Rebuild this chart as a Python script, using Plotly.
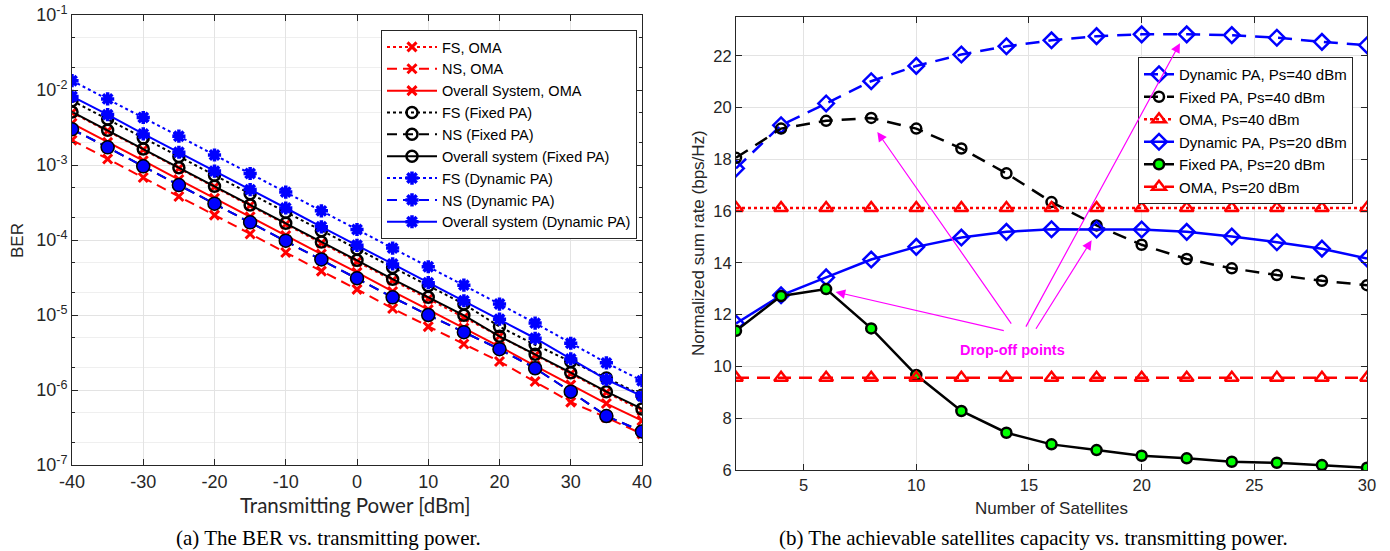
import plotly.graph_objects as go

# ---------------- Left panel data (BER vs transmitting power) ----------------
power_dbm = [-40, -35, -30, -25, -20, -15, -10, -5, 0, 5, 10, 15, 20, 25, 30, 35, 40]

ber_fs_oma = [5.0e-3, 2.85e-3, 1.6e-3, 9.0e-4, 5.1e-4, 2.88e-4, 1.62e-4, 9.1e-5, 5.15e-5, 2.9e-5,
              1.65e-5, 9.3e-6, 5.2e-6, 2.9e-6, 1.65e-6, 9.3e-7, 5.3e-7]
ber_ns_oma = [2.15e-3, 1.2e-3, 6.8e-4, 3.8e-4, 2.15e-4, 1.2e-4, 6.8e-5, 3.85e-5, 2.2e-5, 1.22e-5,
              7.0e-6, 4.1e-6, 2.4e-6, 1.3e-6, 6.9e-7, 4.3e-7, 2.6e-7]
ber_all_oma = [3.6e-3, 2.0e-3, 1.14e-3, 6.4e-4, 3.6e-4, 2.04e-4, 1.15e-4, 6.5e-5, 3.7e-5, 2.06e-5,
               1.18e-5, 6.7e-6, 3.8e-6, 2.1e-6, 1.17e-6, 6.6e-7, 3.9e-7]
ber_fs_fixed = [7.2e-3, 4.1e-3, 2.3e-3, 1.3e-3, 7.3e-4, 4.15e-4, 2.35e-4, 1.33e-4, 7.6e-5, 4.3e-5,
                2.45e-5, 1.4e-5, 7.0e-6, 4.0e-6, 2.4e-6, 1.45e-6, 8.5e-7]
ber_ns_fixed = [3.0e-3, 1.72e-3, 9.6e-4, 5.4e-4, 3.05e-4, 1.72e-4, 9.8e-5, 5.5e-5, 3.1e-5, 1.72e-5,
                1.0e-5, 5.9e-6, 3.5e-6, 1.95e-6, 9.5e-7, 4.5e-7, 2.8e-7]
ber_all_fixed = [5.1e-3, 2.9e-3, 1.63e-3, 9.2e-4, 5.2e-4, 2.93e-4, 1.67e-4, 9.4e-5, 5.35e-5, 3.0e-5,
                 1.72e-5, 9.9e-6, 5.2e-6, 3.0e-6, 1.7e-6, 9.5e-7, 5.6e-7]
ber_fs_dyn = [1.33e-2, 7.6e-3, 4.3e-3, 2.42e-3, 1.36e-3, 7.7e-4, 4.35e-4, 2.45e-4, 1.38e-4, 7.8e-5,
              4.4e-5, 2.5e-5, 1.4e-5, 7.8e-6, 4.2e-6, 2.3e-6, 1.33e-6]
ber_ns_dyn = [3.0e-3, 1.72e-3, 9.6e-4, 5.4e-4, 3.05e-4, 1.72e-4, 9.8e-5, 5.5e-5, 3.1e-5, 1.72e-5,
              1.0e-5, 5.9e-6, 3.5e-6, 1.95e-6, 9.5e-7, 4.5e-7, 2.8e-7]
ber_all_dyn = [8.2e-3, 4.7e-3, 2.6e-3, 1.48e-3, 8.3e-4, 4.7e-4, 2.67e-4, 1.5e-4, 8.5e-5, 4.8e-5,
               2.7e-5, 1.55e-5, 8.8e-6, 4.9e-6, 2.6e-6, 1.38e-6, 8.3e-7]

left_x_ticks = [-40, -30, -20, -10, 0, 10, 20, 30, 40]
left_x_labels = ["-40", "-30", "-20", "-10", "0", "10", "20", "30", "40"]
left_y_exps = [-7, -6, -5, -4, -3, -2, -1]

# ---------------- Right panel data (sum rate vs number of satellites) ----------------
n_sat = [2, 4, 6, 8, 10, 12, 14, 16, 18, 20, 22, 24, 26, 28, 30]
dyn_40 = [17.65, 19.32, 20.16, 21.02, 21.61, 22.05, 22.37, 22.6, 22.76, 22.83, 22.83, 22.8, 22.7, 22.54, 22.41]
fixed_40 = [18.06, 19.19, 19.49, 19.6, 19.19, 18.42, 17.46, 16.35, 15.45, 14.7, 14.15, 13.79, 13.53, 13.31, 13.14]
oma_40 = [16.12] * 15
dyn_20 = [11.66, 12.75, 13.44, 14.13, 14.62, 14.98, 15.2, 15.3, 15.29, 15.29, 15.2, 15.02, 14.8, 14.55, 14.17]
fixed_20 = [11.38, 12.72, 12.99, 11.47, 9.67, 8.28, 7.44, 6.99, 6.77, 6.55, 6.45, 6.32, 6.28, 6.19, 6.09]
oma_20 = [9.56] * 15

right_x_ticks = [5, 10, 15, 20, 25, 30]
right_y_ticks = [6, 8, 10, 12, 14, 16, 18, 20, 22]

RED = "#FF0000"
BLUE = "#0000FF"
BLACK = "#000000"
GREEN = "#00FF00"
MAGENTA = "#FF00FF"
AX = "#262626"
FONT = "Arial, Liberation Sans, sans-serif"

fig = go.Figure()

def left_trace(name, y, color, dash, symbol, msize, mlw, rank, fill=None, mline=None, show=True):
    marker = dict(symbol=symbol, size=msize, color=fill if fill else color,
                  line=dict(width=mlw, color=mline if mline else color))
    fig.add_trace(go.Scatter(
        x=power_dbm, y=y, name=name, mode="lines+markers",
        line=dict(color=color, width=2, dash=dash), marker=marker,
        xaxis="x", yaxis="y", legend="legend", legendrank=rank, showlegend=show))

left_trace("FS, OMA", ber_fs_oma, RED, "dot", "x-thin-open", 9, 3, 1)
left_trace("NS, OMA", ber_ns_oma, RED, "10px,6px", "x-thin-open", 9, 3, 2)
left_trace("Overall System, OMA", ber_all_oma, RED, "solid", "x-thin-open", 9, 3, 3)
left_trace("FS (Fixed PA)", ber_fs_fixed, BLACK, "dot", "circle-open", 11, 2.5, 4)
left_trace("NS (Fixed PA)", ber_ns_fixed, BLACK, "10px,6px", "circle-open", 11, 2.5, 5)
left_trace("Overall system (Fixed PA)", ber_all_fixed, BLACK, "solid", "circle-open", 11, 2.5, 6)
left_trace("FS (Dynamic PA)", ber_fs_dyn, BLUE, "dot", "asterisk-open", 11, 3.5, 7)
left_trace("NS (Dynamic PA)", ber_ns_dyn, BLUE, "10px,6px", "circle", 13, 1.5, 8,
           fill=BLUE, mline=BLACK, show=False)
# legend entry for NS (Dynamic PA) as shown in the reference legend
fig.add_trace(go.Scatter(
    x=[None], y=[None], name="NS (Dynamic PA)", mode="lines+markers",
    line=dict(color=BLUE, width=2, dash="10px,6px"),
    marker=dict(symbol="asterisk-open", size=11, color=BLUE, line=dict(width=3.5, color=BLUE)),
    xaxis="x", yaxis="y", legend="legend", legendrank=8))
left_trace("Overall system (Dynamic PA)", ber_all_dyn, BLUE, "solid", "asterisk-open", 11, 3.5, 9)

def right_trace(name, y, color, dash, symbol, msize, rank, fill=None):
    marker = dict(symbol=symbol, size=msize, color=fill if fill else color,
                  line=dict(width=2.5, color=color if not fill else BLACK))
    fig.add_trace(go.Scatter(
        x=n_sat, y=y, name=name, mode="lines+markers",
        line=dict(color=color, width=2.5, dash=dash), marker=marker,
        xaxis="x2", yaxis="y2", legend="legend2", legendrank=rank))

right_trace("Dynamic PA, Ps=40 dBm", dyn_40, BLUE, "14px,9px", "diamond-open", 12, 1)
right_trace("Fixed PA, Ps=40 dBm", fixed_40, BLACK, "14px,9px", "circle-open", 10, 2)
right_trace("OMA, Ps=40 dBm", oma_40, RED, "dot", "triangle-up-open", 12, 3)
right_trace("Dynamic PA, Ps=20 dBm", dyn_20, BLUE, "solid", "diamond-open", 12, 4)
right_trace("Fixed PA, Ps=20 dBm", fixed_20, BLACK, "solid", "circle", 10, 5, fill=GREEN)
right_trace("OMA, Ps=20 dBm", oma_20, RED, "13px,8px", "triangle-up-open", 12, 6)

W, H = 1390, 551
def px(xp):
    return xp / W
def py(yp):
    return 1 - yp / H

common_axis = dict(showline=True, linecolor=AX, linewidth=1, mirror="allticks", ticks="inside",
                   ticklen=6, tickcolor=AX, showgrid=True, gridcolor="#e3e3e3", gridwidth=1,
                   zeroline=False, automargin=False)

fig.update_layout(
    width=W, height=H, margin=dict(l=0, r=0, t=0, b=0),
    paper_bgcolor="white", plot_bgcolor="white",
    font=dict(family=FONT, color=AX),
    xaxis=dict(domain=[px(72), px(642)], range=[-40, 40], tickvals=left_x_ticks,
               ticktext=left_x_labels,
               tickfont=dict(size=18, family=FONT, color=AX), anchor="y", **common_axis),
    yaxis=dict(domain=[py(465), py(15)], type="log", range=[-7, -1],
               tickvals=[10.0 ** e for e in left_y_exps],
               ticktext=["10<sup>%d</sup>" % e for e in left_y_exps],
               tickfont=dict(size=18, family=FONT, color=AX), anchor="x",
               minor=dict(ticks="inside", ticklen=3, tickcolor=AX, showgrid=True,
                          gridcolor="#efefef", gridwidth=1),
               **common_axis),
    xaxis2=dict(domain=[px(736), px(1367)], range=[2, 30], tickvals=right_x_ticks,
                tickfont=dict(size=16.5, family=FONT, color=AX), anchor="y2", **common_axis),
    yaxis2=dict(domain=[py(470), py(17)], range=[6, 23.5], tickvals=right_y_ticks,
                tickfont=dict(size=16.5, family=FONT, color=AX), anchor="x2", **common_axis),
    legend=dict(x=px(637), y=py(30), xanchor="right", yanchor="top",
                bgcolor="white", bordercolor=AX, borderwidth=1, itemwidth=50,
                font=dict(size=14.5, family=FONT, color="#000000"), tracegroupgap=0),
    legend2=dict(x=px(1353), y=py(57), xanchor="right", yanchor="top",
                 bgcolor="white", bordercolor=AX, borderwidth=1,
                 font=dict(size=15, family=FONT, color="#000000"), tracegroupgap=0),
    showlegend=True,
)

def label(text, xp, yp, size, family=FONT, color=AX, angle=0):
    return dict(text=text, x=px(xp), y=py(yp), xref="paper", yref="paper", showarrow=False,
                xanchor="center", yanchor="middle", textangle=angle,
                font=dict(size=size, family=family, color=color))

SERIF = "Liberation Serif, Times New Roman, serif"
annotations = [
    label("BER", 18, 241, 17, angle=-90),
    label("Transmitting Power [dBm]", 356, 505, 20.5, family="Lato, Open Sans, sans-serif"),
    label("Normalized sum rate (bps/Hz)", 699, 243, 17, angle=-90),
    label("Number of Satellites", 1051, 508, 17),
    label("(a) The BER vs. transmitting power.", 328, 538, 21, family=SERIF, color="#000000"),
    label("(b) The achievable satellites capacity vs. transmitting power.", 1033, 538, 21,
          family=SERIF, color="#000000"),
    label("<b>Drop-off points</b>", 1012, 350, 14.5, color=MAGENTA),
]

# arrows: (tail x, tail y, tip x, tip y) in data units of the right panel
arrow_tails_x = [13.95, 14.26, 15.27, 14.83]
arrow_tails_y = [11.37, 11.6, 11.4, 11.48]
arrow_tips_x = [6.42, 8.27, 17.78, 21.7]
arrow_tips_y = [12.88, 19.06, 14.88, 22.49]
for tx, ty, hx, hy in zip(arrow_tails_x, arrow_tails_y, arrow_tips_x, arrow_tips_y):
    annotations.append(dict(x=hx, y=hy, ax=tx, ay=ty, xref="x2", yref="y2", axref="x2",
                            ayref="y2", showarrow=True, arrowhead=2, arrowsize=1.6,
                            arrowwidth=1.2, arrowcolor=MAGENTA, text=""))

fig.update_layout(annotations=annotations)

fig.write_html("out.html", config={"displayModeBar": False},
               post_script="document.body.style.margin='0px';")
